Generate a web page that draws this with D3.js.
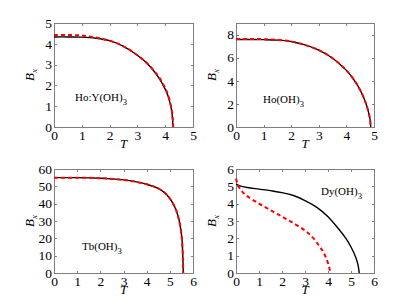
<!DOCTYPE html>
<html><head><meta charset="utf-8">
<script src="https://cdn.jsdelivr.net/npm/d3@7"></script>
<style>body{margin:0;background:#fff}svg{display:block}</style>
</head><body>
<svg id="c" width="415" height="308"></svg>
<script>
// Panel titles
const labels = ["Ho:Y(OH)", "Ho(OH)", "Tb(OH)", "Dy(OH)"];
const xTicks = [[0,1,2,3,4,5],[0,1,2,3,4,5],[0,1,2,3,4,5,6],[0,1,2,3,4,5,6]];
const yTicks = [[0,1,2,3,4,5],[0,2,4,6,8],[0,10,20,30,40,50,60],[0,1,2,3,4,5,6]];
const xMax = [5,5,6,6];
const yMax = [5,9,60,6];
// Series: [T, Bx]
const hoY_solid = [[0,4.33],[0.5,4.33],[1,4.32],[1.5,4.27],[2,4.15],[2.5,3.88],[3,3.45],[3.3,3.12],[3.6,2.68],[3.8,2.3],[4,1.82],[4.1,1.5],[4.2,1.0],[4.25,0.6],[4.28,0]];
const hoY_dash  = [[0,4.42],[0.5,4.42],[1,4.4],[1.5,4.3],[2,4.15],[2.5,3.88],[3,3.45],[3.3,3.12],[3.6,2.7],[3.8,2.35],[4,1.87],[4.1,1.55],[4.2,1.05],[4.25,0.7],[4.29,0]];
const ho_solid  = [[0,7.57],[0.5,7.57],[1,7.56],[1.5,7.52],[2,7.4],[2.5,7.1],[3,6.65],[3.5,5.95],[4,4.9],[4.3,4.0],[4.5,3.2],[4.7,2.1],[4.8,1.3],[4.86,0.6],[4.88,0]];
const ho_dash   = [[0,7.62],[0.5,7.62],[1,7.6],[1.5,7.54],[2,7.4],[2.5,7.1],[3,6.65],[3.5,5.95],[4,4.9],[4.3,4.0],[4.5,3.2],[4.7,2.1],[4.8,1.3],[4.86,0.6],[4.88,0]];
const tb_solid  = [[0,55],[1,55],[2,54.7],[2.5,54.3],[3,53.7],[3.5,52.7],[4,51.2],[4.5,48.8],[4.8,46],[5,43],[5.2,38.5],[5.35,33],[5.45,27],[5.52,20],[5.56,10],[5.58,0]];
const tb_dash   = [[0,55],[1,55],[2,54.7],[2.5,54.3],[3,53.7],[3.5,52.7],[4,51.2],[4.5,48.8],[4.8,46],[5,43],[5.2,38.5],[5.35,33],[5.45,27],[5.52,20],[5.56,10],[5.58,0]];
const dy_solid  = [[0,5.13],[0.25,5.0],[0.5,4.93],[1,4.84],[1.5,4.75],[2,4.64],[2.5,4.47],[3,4.18],[3.5,3.8],[4,3.25],[4.5,2.48],[4.8,1.95],[5,1.5],[5.2,0.93],[5.3,0.5],[5.36,0]];
const dy_dash   = [[0,5.45],[0.05,5.2],[0.15,4.9],[0.3,4.65],[0.5,4.42],[1,4.0],[1.5,3.63],[2,3.25],[2.5,2.87],[3,2.45],[3.3,2.1],[3.6,1.6],[3.8,1.2],[3.95,0.75],[4.05,0.35],[4.1,0]];
const solids = [hoY_solid, ho_solid, tb_solid, dy_solid];
const dashes = [hoY_dash, ho_dash, tb_dash, dy_dash];
const labelPos = [[75,101],[263,103],[82,250],[321,195]];

const boxes = [
  {x0:54,x1:193,y0:23,y1:127},
  {x0:236,x1:374,y0:23,y1:127},
  {x0:54,x1:193,y0:169,y1:273},
  {x0:236,x1:374,y0:169,y1:273}
];
const svg = d3.select("#c");
const font = "'Liberation Serif','Times New Roman',Times,serif";
const axCol = "#7f7f7f";

boxes.forEach((b,i)=>{
  const x = d3.scaleLinear().domain([0,xMax[i]]).range([b.x0,b.x1]);
  const y = d3.scaleLinear().domain([0,yMax[i]]).range([b.y1,b.y0]);
  const g = svg.append("g");
  g.append("rect").attr("x",b.x0).attr("y",b.y0).attr("width",b.x1-b.x0).attr("height",b.y1-b.y0)
    .attr("fill","#fff").attr("stroke",axCol).attr("stroke-width",1).attr("shape-rendering","crispEdges");
  const xa = g.append("g").attr("transform",`translate(0,${b.y1})`)
    .call(d3.axisBottom(x).tickValues(xTicks[i]).tickSize(-2.5).tickPadding(3).tickFormat(d3.format("d")));
  const xt = g.append("g").attr("transform",`translate(0,${b.y0})`)
    .call(d3.axisTop(x).tickValues(xTicks[i]).tickSize(-2.5).tickFormat(""));
  const ya = g.append("g").attr("transform",`translate(${b.x0},0)`)
    .call(d3.axisLeft(y).tickValues(yTicks[i]).tickSize(-2.5).tickPadding(2).tickFormat(d3.format("d")));
  const yr = g.append("g").attr("transform",`translate(${b.x1},0)`)
    .call(d3.axisRight(y).tickValues(yTicks[i]).tickSize(-2.5).tickFormat(""));
  [xa,xt,ya,yr].forEach(a=>{
    a.select(".domain").remove();
    a.selectAll("line").attr("stroke",axCol).attr("shape-rendering","crispEdges");
    a.selectAll("text").attr("fill","#000").attr("font-family",font).attr("font-size","13.5px");
  });
  const lineY = d3.line().x(d=>x(d[0])).y(d=>y(d[1])).curve(d3.curveCatmullRom);
  g.append("path").datum(solids[i]).attr("d",lineY).attr("fill","none").attr("stroke","#000").attr("stroke-width",1.4);
  g.append("path").datum(dashes[i]).attr("d",lineY).attr("fill","none").attr("stroke","#f00").attr("stroke-width",2).attr("stroke-dasharray","4,3");
  g.append("text").attr("x",(b.x0+b.x1)/2).attr("y",b.y1+21).attr("text-anchor","middle")
    .attr("font-family",font).attr("font-size","13px").attr("font-style","italic").text("T");
  const yl = g.append("text").attr("transform",`translate(${b.x0-20},${(b.y0+b.y1)/2}) rotate(-90)`).attr("text-anchor","middle")
    .attr("font-family",font).attr("font-size","13px").attr("font-style","italic");
  yl.append("tspan").text("B");
  yl.append("tspan").attr("dy",3).attr("font-size","9px").text("x");
  const t = g.append("text").attr("x",labelPos[i][0]).attr("y",labelPos[i][1])
    .attr("font-family",font).attr("font-size","11px");
  t.append("tspan").text(labels[i]);
  t.append("tspan").attr("dy",4).attr("font-size","8.5px").text("3");
});
</script>
</body></html>
